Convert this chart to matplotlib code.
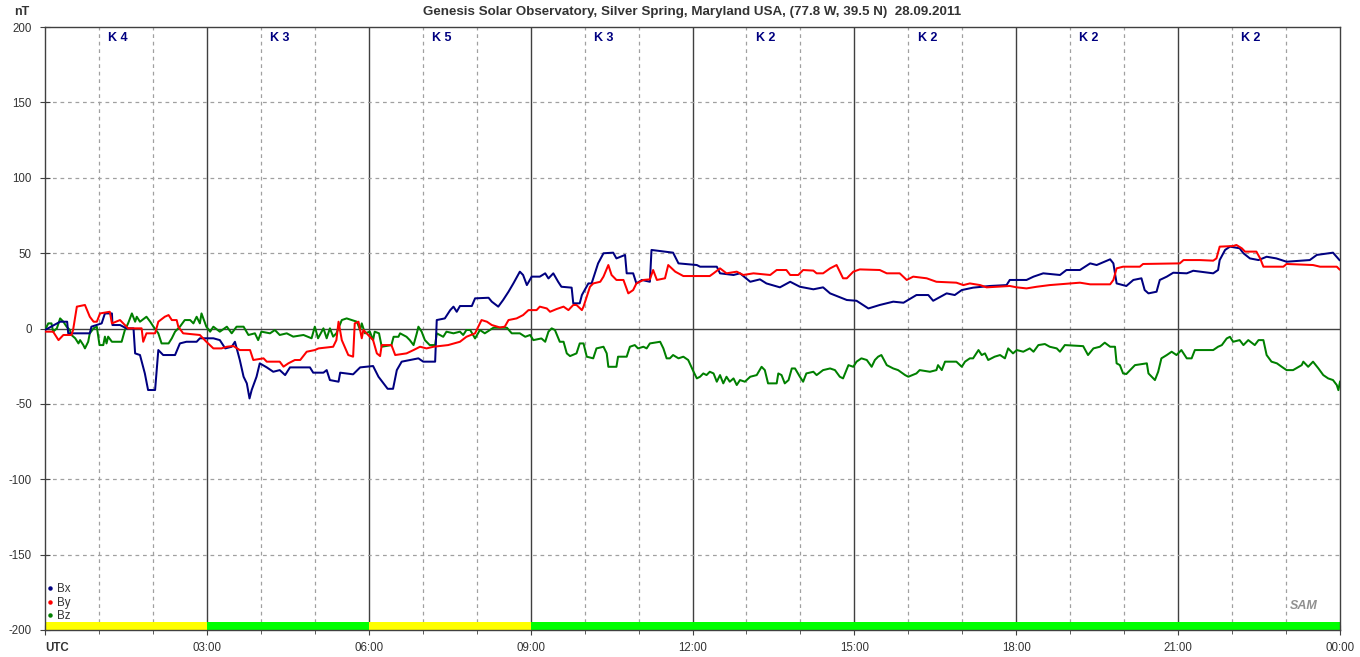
import matplotlib
matplotlib.use("Agg")
import matplotlib.pyplot as plt
from matplotlib.lines import Line2D

plt.rcParams["font.family"] = ["Liberation Sans", "DejaVu Sans"]

# --- data (hours UTC, nT) ------------------------------------------------
bx_h = [0.0, 0.28, 0.41, 0.43, 0.83, 0.86, 1.05, 1.11, 1.24, 1.25, 1.39, 1.51, 1.64,
        1.67, 1.76, 1.85, 1.91, 2.04, 2.10, 2.19, 2.41, 2.50, 2.62, 2.81, 2.87, 3.12,
        3.24, 3.34, 3.46, 3.52, 3.61, 3.68, 3.74, 3.79, 3.83, 3.92, 3.98, 4.11, 4.23,
        4.35, 4.45, 4.54, 4.91, 4.97, 5.16, 5.22, 5.28, 5.44, 5.47, 5.71, 5.84, 6.08,
        6.18, 6.35, 6.45, 6.52, 6.61, 6.92, 7.01, 7.23, 7.26, 7.41, 7.51, 7.57, 7.63,
        7.69, 7.91, 7.97, 8.22, 8.28, 8.40, 8.49, 8.59, 8.68, 8.80, 8.86, 8.93, 9.02,
        9.17, 9.27, 9.33, 9.42, 9.51, 9.57, 9.76, 9.79, 9.91, 9.95, 10.07, 10.13, 10.25,
        10.35, 10.53, 10.59, 10.75, 10.78, 10.90, 10.96, 11.06, 11.21, 11.24, 11.64,
        11.74, 12.08, 12.14, 12.45, 12.51, 12.76, 12.88, 13.07, 13.25, 13.37, 13.62,
        13.81, 13.99, 14.24, 14.42, 14.55, 14.86, 15.04, 15.26, 15.47, 15.72, 15.91,
        16.15, 16.37, 16.46, 16.71, 16.86, 16.99, 17.20, 17.51, 17.82, 17.88, 18.19,
        18.32, 18.50, 18.81, 18.93, 19.18, 19.37, 19.49, 19.74, 19.80, 19.86, 20.04,
        20.17, 20.32, 20.38, 20.45, 20.60, 20.66, 20.79, 20.91, 21.16, 21.28, 21.65,
        21.74, 21.77, 21.87, 21.96, 22.14, 22.21, 22.33, 22.49, 22.64, 22.82, 23.01,
        23.44, 23.57, 23.87, 23.99]
bx_v = [-1.0, 4.5, 4.5, -3.2, -3.2, 1.2, 3.4, 10.0, 10.0, 2.3, 2.3, 0.1, 0.1,
        -16.5, -17.6, -29.8, -40.8, -40.8, -14.3, -17.6, -17.6, -9.9, -8.8, -8.8, -6.5, -6.5,
        -7.7, -13.2, -12.1, -8.8, -20.9, -32.0, -36.4, -46.4, -40.8, -32.0, -23.1, -25.8, -28.7,
        -27.6, -30.9, -25.8, -25.8, -29.3, -29.3, -27.6, -34.2, -35.3, -29.3, -30.4, -25.8, -24.9,
        -32.0, -40.0, -40.0, -27.6, -22.0, -19.8, -22.0, -22.0, 5.6, 6.7, 12.2, 14.5, 11.1,
        14.9, 14.9, 20.0, 20.4, 17.8, 14.5, 18.9, 24.4, 29.9, 37.7, 35.5, 28.8, 34.4,
        34.4, 36.6, 33.2, 36.6, 31.0, 27.7, 27.1, 16.7, 16.7, 22.2, 29.9, 29.9, 43.2,
        49.9, 50.3, 46.5, 48.8, 36.6, 36.6, 29.9, 32.2, 31.0, 52.1, 50.3,
        43.2, 42.1, 41.0, 41.0, 36.6, 35.5, 36.6, 31.0, 32.6, 29.9, 27.3,
        31.0, 27.7, 26.0, 27.3, 23.3, 18.9, 18.4, 13.3, 15.6, 17.8, 17.1,
        22.2, 22.2, 18.4, 23.3, 22.2, 25.5, 27.1, 28.2, 28.8, 32.2, 32.2,
        34.4, 36.6, 35.5, 38.8, 38.8, 43.2, 42.1, 45.9, 43.2, 29.9, 28.2,
        32.2, 33.3, 25.5, 23.3, 24.4, 32.2, 34.4, 37.0, 36.6, 38.3, 36.6,
        38.8, 45.4, 52.1, 54.3, 53.2, 49.9, 46.5, 45.4, 47.6, 46.5, 44.3,
        45.4, 48.8, 50.3, 45.4]

by_h = [0.0, 0.15, 0.25, 0.34, 0.49, 0.52, 0.59, 0.74, 0.83, 0.90, 0.96, 1.02, 1.20,
        1.24, 1.39, 1.54, 1.79, 1.82, 1.88, 2.04, 2.10, 2.22, 2.29, 2.35, 2.44, 2.47,
        2.56, 2.87, 2.99, 3.12, 3.27, 3.37, 3.49, 3.61, 3.80, 3.86, 4.05, 4.11, 4.35,
        4.42, 4.51, 4.63, 4.73, 4.85, 5.00, 5.07, 5.34, 5.40, 5.44, 5.50, 5.62, 5.71,
        5.74, 5.81, 5.87, 5.90, 6.08, 6.15, 6.21, 6.24, 6.42, 6.49, 6.70, 6.83, 6.95,
        7.07, 7.20, 7.47, 7.69, 7.81, 7.97, 8.09, 8.19, 8.28, 8.43, 8.52, 8.59, 8.74,
        8.86, 8.96, 9.11, 9.17, 9.30, 9.36, 9.48, 9.61, 9.70, 9.79, 9.85, 9.95, 9.98,
        10.04, 10.10, 10.16, 10.29, 10.35, 10.44, 10.50, 10.59, 10.72, 10.81, 10.90,
        10.96, 11.09, 11.21, 11.27, 11.34, 11.49, 11.55, 11.68, 11.83, 12.14, 12.32,
        12.39, 12.51, 12.63, 12.82, 12.94, 13.13, 13.44, 13.56, 13.74, 13.81, 13.96,
        14.05, 14.24, 14.30, 14.42, 14.55, 14.67, 14.79, 14.86, 14.98, 15.10, 15.47,
        15.60, 15.84, 15.97, 16.09, 16.34, 16.52, 16.89, 17.02, 17.14, 17.33, 17.45,
        17.88, 18.01, 18.19, 18.38, 18.62, 18.87, 19.18, 19.37, 19.74, 19.80, 19.86,
        19.98, 20.29, 20.35, 21.03, 21.10, 21.40, 21.65, 21.71, 21.77, 22.02, 22.08,
        22.18, 22.24, 22.45, 22.52, 22.58, 22.95, 23.01, 23.50, 23.63, 23.94, 23.99]
by_v = [-2.1, -2.1, -7.7, -4.3, -4.3, -1.0, 14.5, 15.6, 7.8, 4.5, 4.5, 10.0, 11.1,
        3.4, 5.6, 0.1, 0.1, -8.8, -3.2, -3.2, 4.5, 7.8, 8.9, 5.6, 5.6, 1.2,
        -3.2, -4.3, -8.8, -13.2, -13.2, -12.1, -11.6, -14.3, -14.3, -20.9, -19.8, -22.0, -22.0,
        -25.3, -23.1, -20.9, -20.9, -15.4, -14.3, -13.2, -12.1, -7.7, 4.5, -7.7, -17.6, -18.7,
        3.4, 4.5, -6.5, -1.0, -7.7, -16.5, -18.3, -11.0, -11.0, -17.6, -16.5, -14.3, -12.1,
        -13.2, -12.1, -11.0, -8.8, -5.5, -3.2, 5.6, 4.5, 2.3, 0.7, 1.2, 5.6, 6.7,
        8.9, 12.2, 12.2, 14.5, 13.3, 11.1, 12.9, 14.5, 12.2, 15.6, 15.6, 12.2, 14.5,
        21.1, 27.7, 29.9, 31.0, 34.4, 42.1, 35.5, 32.2, 32.2, 23.3, 25.5,
        29.9, 32.2, 32.6, 38.8, 32.2, 33.3, 42.1, 37.7, 34.8, 34.8, 34.8,
        36.6, 39.9, 36.6, 37.7, 35.5, 36.6, 35.5, 38.8, 38.8, 35.5, 35.5,
        38.8, 38.4, 36.6, 36.6, 39.9, 42.1, 33.3, 33.3, 37.7, 39.2, 38.8,
        36.6, 36.6, 32.2, 34.4, 33.3, 31.0, 30.4, 28.8, 29.9, 28.8, 27.3,
        28.2, 27.3, 26.6, 27.7, 28.8, 29.5, 30.4, 29.3, 29.3, 32.2, 39.9,
        41.0, 41.0, 42.8, 43.2, 45.4, 45.4, 45.0, 46.5, 54.3, 54.7, 55.4,
        53.2, 51.0, 51.0, 46.5, 41.0, 41.0, 42.8, 42.1, 41.0, 41.0, 39.2]

bz_h = [0.0, 0.06, 0.12, 0.15, 0.22, 0.28, 0.34, 0.40, 0.46, 0.49, 0.56, 0.62, 0.65,
        0.71, 0.74, 0.80, 0.83, 0.90, 0.96, 1.01, 1.08, 1.11, 1.14, 1.17, 1.24, 1.42,
        1.48, 1.54, 1.61, 1.67, 1.70, 1.76, 1.88, 1.95, 2.01, 2.10, 2.16, 2.29, 2.35,
        2.41, 2.50, 2.59, 2.69, 2.75, 2.81, 2.87, 2.90, 2.99, 3.06, 3.12, 3.24, 3.37,
        3.46, 3.55, 3.68, 3.77, 3.89, 3.95, 4.01, 4.17, 4.26, 4.35, 4.48, 4.60, 4.79,
        4.94, 5.00, 5.06, 5.16, 5.22, 5.28, 5.34, 5.40, 5.50, 5.59, 5.78, 5.84, 5.87,
        5.93, 6.02, 6.08, 6.11, 6.19, 6.24, 6.42, 6.46, 6.55, 6.58, 6.70, 6.76, 6.83,
        6.89, 6.92, 6.98, 7.04, 7.13, 7.23, 7.26, 7.38, 7.44, 7.57, 7.69, 7.75, 7.81,
        7.88, 7.97, 8.06, 8.15, 8.31, 8.56, 8.65, 8.80, 8.90, 8.99, 9.05, 9.20, 9.27,
        9.33, 9.39, 9.45, 9.54, 9.61, 9.67, 9.73, 9.85, 9.91, 9.98, 10.04, 10.16, 10.22,
        10.35, 10.41, 10.44, 10.59, 10.62, 10.78, 10.84, 10.93, 10.99, 11.09, 11.15,
        11.21, 11.40, 11.46, 11.52, 11.58, 11.64, 11.74, 11.83, 11.92, 12.02, 12.08,
        12.14, 12.20, 12.26, 12.32, 12.39, 12.45, 12.51, 12.57, 12.63, 12.69, 12.76,
        12.82, 12.88, 12.97, 13.07, 13.19, 13.28, 13.34, 13.40, 13.56, 13.59, 13.65,
        13.71, 13.78, 13.84, 13.90, 13.99, 14.05, 14.11, 14.24, 14.30, 14.42, 14.55,
        14.64, 14.73, 14.79, 14.89, 14.98, 15.04, 15.13, 15.23, 15.32, 15.38, 15.44,
        15.50, 15.60, 15.72, 15.81, 15.94, 16.00, 16.15, 16.21, 16.40, 16.52, 16.55,
        16.62, 16.68, 16.89, 16.99, 17.05, 17.14, 17.20, 17.30, 17.36, 17.42, 17.48,
        17.60, 17.70, 17.79, 17.85, 17.94, 18.01, 18.13, 18.25, 18.32, 18.41, 18.53,
        18.62, 18.75, 18.81, 18.90, 19.24, 19.33, 19.43, 19.55, 19.64, 19.74, 19.83,
        19.86, 19.92, 19.98, 20.04, 20.11, 20.20, 20.42, 20.45, 20.51, 20.57, 20.63,
        20.69, 20.79, 20.88, 20.97, 21.06, 21.16, 21.25, 21.31, 21.65, 21.74, 21.81,
        21.90, 21.96, 22.02, 22.14, 22.21, 22.30, 22.42, 22.49, 22.58, 22.64, 22.73,
        22.83, 22.92, 23.01, 23.13, 23.29, 23.32, 23.41, 23.50, 23.60, 23.69, 23.78,
        23.87, 23.94, 23.97, 24.0]
bz_v = [-1.0, 3.4, 3.4, -2.1, 0.1, 6.7, 4.5, 1.2, -1.0, -4.3, -6.5, -9.9, -7.7,
        -11.0, -13.2, -8.8, -3.2, 0.1, 1.2, -11.0, -11.0, -5.4, -9.9, -5.4, -8.8, -8.8,
        -1.0, 3.4, 10.0, 4.5, 7.8, 4.5, 7.8, 4.5, 1.2, -3.2, -9.9, -9.9, -6.5,
        -2.1, 1.2, 5.6, 5.6, 3.4, 7.8, 3.4, 10.0, 1.2, -2.1, 1.2, -2.1, 1.2,
        -3.2, 1.2, 1.2, -4.3, -3.2, -7.7, -2.1, -3.2, -1.0, -4.3, -3.2, -5.4, -4.3,
        -6.5, 1.2, -6.5, 0.1, -6.5, 0.1, -5.4, -3.2, 5.6, 6.7, 4.5, -1.0, 3.4,
        -3.2, -2.1, -7.7, -2.1, -3.2, -12.1, -11.0, -5.5, -5.5, -3.2, -5.5, -7.7, -11.0,
        -3.2, 1.2, -2.1, -7.7, -11.0, -11.0, -3.2, -5.5, -2.1, -3.2, -2.1, -4.3, -1.0,
        -1.0, -6.6, -1.0, -3.2, 0.5, 0.5, -3.2, -3.2, -5.5, -4.3, -7.7, -6.6, -8.8,
        -2.1, 0.1, -1.0, -8.8, -8.8, -16.5, -18.3, -16.5, -9.9, -9.9, -18.7, -19.8, -13.2,
        -12.1, -16.5, -25.4, -25.4, -18.7, -18.7, -12.1, -11.0, -13.2, -12.1, -13.2,
        -9.9, -8.8, -13.2, -19.8, -19.8, -17.6, -19.8, -18.7, -20.9, -28.7, -33.1,
        -32.0, -29.8, -30.9, -28.7, -29.8, -35.3, -30.9, -36.4, -32.0, -35.3, -33.1,
        -37.5, -34.2, -35.3, -32.0, -30.9, -25.4, -27.6, -36.4, -36.4, -29.8, -30.9,
        -36.4, -34.2, -26.5, -26.5, -32.0, -35.3, -29.8, -28.7, -30.9, -27.6, -26.5,
        -27.6, -32.0, -33.1, -24.3, -25.4, -22.0, -19.8, -20.9, -25.4, -20.9, -18.7,
        -17.6, -24.3, -26.5, -27.6, -30.9, -32.0, -29.8, -27.6, -28.7, -27.6, -24.3,
        -27.6, -22.0, -22.0, -25.4, -22.0, -19.8, -19.8, -14.3, -17.6, -16.5, -20.9,
        -18.7, -17.6, -19.8, -13.2, -16.5, -14.3, -15.4, -13.2, -15.4, -11.0, -10.3,
        -12.1, -13.2, -15.4, -11.0, -11.7, -17.6, -13.2, -12.1, -9.4, -12.1, -12.1,
        -23.1, -24.3, -29.8, -30.2, -27.6, -24.3, -23.1, -29.8, -32.0, -34.2, -28.7,
        -19.8, -17.6, -15.4, -17.6, -14.3, -19.8, -19.8, -14.3, -14.3, -12.1, -11.0,
        -6.6, -5.5, -8.8, -7.7, -11.0, -7.7, -11.0, -7.7, -7.7, -17.6, -22.0,
        -23.1, -25.4, -27.6, -27.6, -24.3, -22.0, -25.4, -22.0, -26.5, -30.9, -33.1,
        -34.2, -37.5, -40.9, -35.3]

k_index = ["K 4", "K 3", "K 5", "K 3", "K 2", "K 2", "K 2", "K 2"]
k_colors = ["#ffff00", "#00ff00", "#ffff00", "#00ff00",
            "#00ff00", "#00ff00", "#00ff00", "#00ff00"]
x_labels = ["UTC", "03:00", "06:00", "09:00", "12:00", "15:00", "18:00", "21:00", "00:00"]
y_ticks = [-200, -150, -100, -50, 0, 50, 100, 150, 200]

BX_COLOR = "#000080"
BY_COLOR = "#ff0000"
BZ_COLOR = "#008000"
AXIS_COLOR = "#404040"
GRID_COLOR = "#a0a0a0"

fig = plt.figure(figsize=(13.6, 6.57), dpi=100)
ax = fig.add_axes([0.0331, 0.0411, 0.9522, 0.9178])
ax.set_xlim(0, 24)
ax.set_ylim(-200, 200)

# grid: dashed every hour / 50 nT, solid every 3 h and at zero
for h in range(1, 24):
    if h % 3 == 0:
        ax.axvline(h, color=AXIS_COLOR, lw=1.0, zorder=1)
    else:
        ax.axvline(h, color=GRID_COLOR, lw=0.9, ls=(0, (3, 3)), zorder=1)
for v in y_ticks[1:-1]:
    if v == 0:
        ax.axhline(v, color=AXIS_COLOR, lw=1.0, zorder=1)
    else:
        ax.axhline(v, color=GRID_COLOR, lw=0.9, ls=(0, (3, 3)), zorder=1)

# K-index colour strip and labels
for i, (k, c) in enumerate(zip(k_index, k_colors)):
    ax.fill_between([3 * i, 3 * i + 3], -200, -194.7, color=c, lw=0, zorder=2)
    ax.text(3 * i + 1.35, 193, k, color="#000080", fontsize=9,
            fontweight="bold", ha="center", va="center", zorder=5)

ax.plot(bz_h, bz_v, color=BZ_COLOR, lw=1.45, zorder=3)
ax.plot(by_h, by_v, color=BY_COLOR, lw=1.45, zorder=4)
ax.plot(bx_h, bx_v, color=BX_COLOR, lw=1.45, zorder=3.5)

for s in ax.spines.values():
    s.set_color(AXIS_COLOR)
    s.set_linewidth(1.0)

ax.set_xticks(range(0, 25, 3))
ax.set_xticks(range(0, 25), minor=True)
ax.set_xticklabels(x_labels)
ax.set_yticks(y_ticks)
ax.set_yticklabels([str(v) for v in y_ticks])
ax.tick_params(axis="both", which="both", direction="inout", color=AXIS_COLOR,
               labelsize=8.3, labelcolor="#333333")
ax.tick_params(axis="x", which="major", length=7, pad=5)
ax.tick_params(axis="x", which="minor", length=6)
ax.tick_params(axis="y", length=7, pad=6)
lbl0 = ax.get_xticklabels()[0]
lbl0.set_fontweight("bold")
lbl0.set_horizontalalignment("left")

handles = [Line2D([0], [0], marker="o", ls="", ms=2.2, color=c, label=n)
           for c, n in zip([BX_COLOR, BY_COLOR, BZ_COLOR], ["Bx", "By", "Bz"])]
ax.legend(handles=handles, loc="lower left", bbox_to_anchor=(0.0, 0.009),
          frameon=False, fontsize=8.3, handlelength=0.5, handletextpad=0.3,
          labelspacing=0.12, borderpad=0.2, borderaxespad=0.0, labelcolor="#333333")

ax.text(0.972, 0.04, "SAM", transform=ax.transAxes, fontsize=9, style="italic",
        color="#909090", ha="center", va="center", fontweight="bold")

fig.text(0.509, 0.982, "Genesis Solar Observatory, Silver Spring, Maryland USA, "
         "(77.8 W, 39.5 N)  28.09.2011", ha="center", va="center",
         fontsize=9.6, fontweight="bold", color="#333333")
fig.text(0.0105, 0.982, "nT", ha="left", va="center", fontsize=9,
         fontweight="bold", color="#333333")

fig.savefig("out.png", dpi=100, facecolor="white")
